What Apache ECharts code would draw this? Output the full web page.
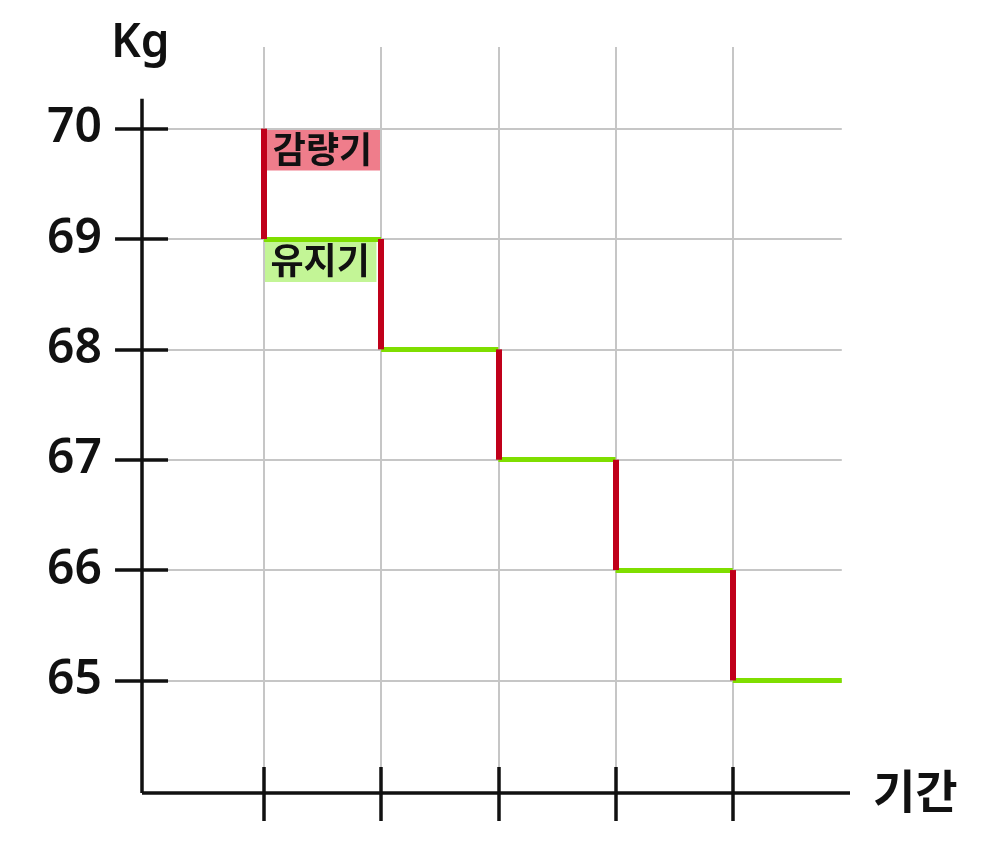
<!DOCTYPE html>
<html>
<head>
<meta charset="utf-8">
<script src="https://cdn.jsdelivr.net/npm/echarts@6/dist/echarts.min.js"></script>
<style>html,body{margin:0;padding:0;background:#fff;}#c{width:992px;height:868px;}</style>
</head>
<body>
<div id="c"></div>
<script>
// ---- data ----
const stepX = [1, 2, 3, 4, 5];            // period positions where weight drops
const weights = [70, 69, 68, 67, 66, 65]; // weight levels (Kg)
const lastEnd = 5.93;                     // end of last maintenance period
const yTicks = [65, 66, 67, 68, 69, 70];
const xTicks = [1, 2, 3, 4, 5];
const xName = '기간';
const yName = 'Kg';
const phaseLabels = ['감량기', '유지기'];

// ---- axis geometry (value units) ----
const axisX = -0.04, axisY = 63.98;       // where the drawn axes cross
const xMinExt = -0.279, xMax = 6.0;
const yMinExt = 63.717, yMax = 70.74, yAxisTop = 70.27;
const yTickFrom = -0.27, yTickTo = 0.182;
const xTickFrom = 63.726, xTickTo = 64.216;

// derived segments
const redSegs = stepX.map((x, i) => ({ coords: [[x, weights[i]], [x, weights[i + 1]]] }));
const greenSegs = stepX.map((x, i) => ({ coords: [[x, weights[i + 1]], [i + 1 < stepX.length ? stepX[i + 1] : lastEnd, weights[i + 1]]] }));
const gridSegs = [];
xTicks.forEach(x => gridSegs.push({ coords: [[x, axisY], [x, yMax]] }));
yTicks.forEach(y => gridSegs.push({ coords: [[axisX, y], [lastEnd, y]] }));
const axisSegs = [
  { coords: [[axisX, axisY], [axisX, yAxisTop]] },
  { coords: [[axisX, axisY], [xMax, axisY]] }
];
yTicks.forEach(y => axisSegs.push({ coords: [[yTickFrom, y], [yTickTo, y]] }));
xTicks.forEach(x => axisSegs.push({ coords: [[x, xTickFrom], [x, xTickTo]] }));

const chart = echarts.init(document.getElementById('c'), null, { renderer: 'canvas' });

chart.setOption({
  animation: false,
  grid: { left: 114, right: 142, top: 47, bottom: 46 },
  xAxis: {
    type: 'value', min: xMinExt, max: xMax,
    axisLine: { show: false }, axisTick: { show: false }, splitLine: { show: false }, axisLabel: { show: false }
  },
  yAxis: {
    type: 'value', min: yMinExt, max: yMax,
    axisLine: { show: false }, axisTick: { show: false }, splitLine: { show: false },
    axisLabel: { show: true, customValues: yTicks, margin: 12, fontSize: 48, fontWeight: 600, color: '#111', fontFamily: 'Noto Sans' }
  },
  graphic: [
    { type: 'text', left: 111, top: 21, style: { text: yName, fontSize: 46, fontWeight: 600, fill: '#111', fontFamily: 'Noto Sans' } },
    { type: 'text', left: 873, top: 768, style: { text: xName, fontSize: 46, fontWeight: 'bold', fill: '#111', fontFamily: 'Noto Sans CJK KR' } }
  ],
  series: [
    {
      type: 'lines', coordinateSystem: 'cartesian2d', z: 1, silent: true,
      lineStyle: { color: '#c6c6c6', width: 2, opacity: 1 },
      data: gridSegs
    },
    {
      type: 'line', z: 2, silent: true, data: [],
      markArea: {
        silent: true,
        data: [
          [{ coord: [stepX[0], weights[0]], itemStyle: { color: '#ef7d8b' }, label: { show: true, position: 'inside', formatter: phaseLabels[0] } },
           { coord: [stepX[1], weights[0] - 0.38] }],
          [{ coord: [stepX[0], weights[1]], itemStyle: { color: '#c3f596' }, label: { show: true, position: 'inside', formatter: phaseLabels[1] } },
           { coord: [stepX[1] - 0.04, weights[1] - 0.39] }]
        ],
        label: { fontSize: 36, fontWeight: 'bold', color: '#111', fontFamily: 'Noto Sans CJK KR' }
      }
    },
    {
      type: 'lines', coordinateSystem: 'cartesian2d', z: 3, silent: true,
      lineStyle: { color: '#7fde00', width: 5, opacity: 1 },
      data: greenSegs
    },
    {
      type: 'lines', coordinateSystem: 'cartesian2d', z: 4, silent: true,
      lineStyle: { color: '#c0001a', width: 6, opacity: 1 },
      data: redSegs
    },
    {
      type: 'lines', coordinateSystem: 'cartesian2d', z: 5, silent: true,
      lineStyle: { color: '#111', width: 3.5, opacity: 1 },
      data: axisSegs
    }
  ]
});
</script>
</body>
</html>
